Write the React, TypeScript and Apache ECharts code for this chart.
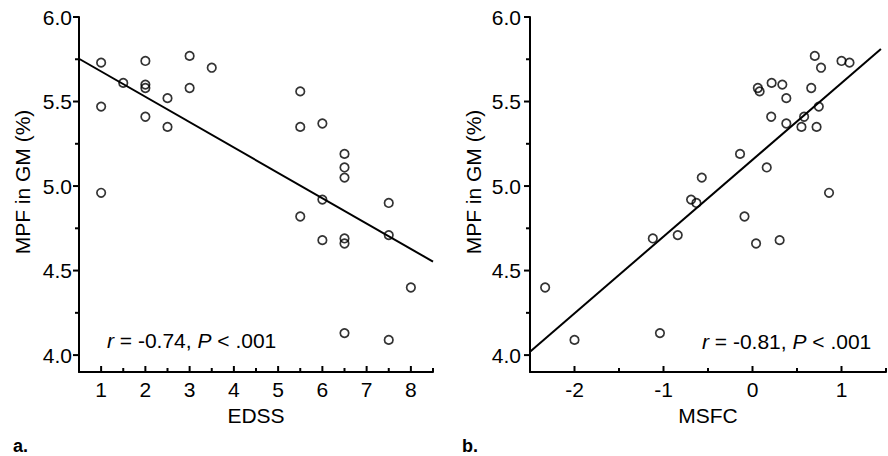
import React, { useEffect, useRef } from "react";
import * as echarts from "echarts";

// Panel a: EDSS vs MPF in GM
const edss = [1, 1, 1, 1.5, 2, 2, 2, 2, 2.5, 2.5, 3, 3, 3.5, 5.5, 5.5, 5.5, 6, 6, 6, 6.5, 6.5, 6.5, 6.5, 6.5, 6.5, 7.5, 7.5, 7.5, 8];
const mpfA = [5.73, 5.47, 4.96, 5.61, 5.74, 5.6, 5.58, 5.41, 5.52, 5.35, 5.77, 5.58, 5.7, 5.56, 5.35, 4.82, 5.37, 4.92, 4.68, 5.19, 5.11, 5.05, 4.69, 4.66, 4.13, 4.9, 4.71, 4.09, 4.4];

// Panel b: MSFC vs MPF in GM
const msfc = [-2.33, -2.0, -1.04, -1.12, -0.84, -0.69, -0.63, -0.57, -0.14, -0.09, 0.04, 0.06, 0.08, 0.16, 0.21, 0.215, 0.305, 0.335, 0.38, 0.38, 0.55, 0.58, 0.66, 0.7, 0.72, 0.745, 0.77, 0.86, 1.0, 1.09];
const mpfB = [4.4, 4.09, 4.13, 4.69, 4.71, 4.92, 4.9, 5.05, 5.19, 4.82, 4.66, 5.58, 5.56, 5.11, 5.41, 5.61, 4.68, 5.6, 5.52, 5.37, 5.35, 5.41, 5.58, 5.77, 5.35, 5.47, 5.7, 4.96, 5.74, 5.73];

// Regression fits
const fitA = { intercept: 5.828, slope: -0.15, xFrom: 0.5, xTo: 8.5 };
const fitB = { intercept: 5.155, slope: 0.454, xFrom: -2.5, xTo: 1.443 };

// Axis ranges and ticks
const yRange = [3.9, 6.0];
const xRangeA = [0.5, 8.5];
const xRangeB = [-2.5, 1.5];
const yMajor = [4.0, 4.5, 5.0, 5.5, 6.0];
const yMinor = [4.25, 4.75, 5.25, 5.75];
const xMajorA = [1, 2, 3, 4, 5, 6, 7, 8];
const xMinorA = [1.5, 2.5, 3.5, 4.5, 5.5, 6.5, 7.5, 8.5];
const xMajorB = [-2, -1, 0, 1];
const xMinorB = [-1.5, -0.5, 0.5, 1.5];

const statsA = { r: "-0.74", p: ".001" };
const statsB = { r: "-0.81", p: ".001" };

const FONT = "'Liberation Sans', Arial, Helvetica, sans-serif";
const FS = 21;
const MAJOR_LEN = 5;
const MINOR_LEN = 3;
const TICK_COLOR = "#000";

export default function App() {
  const ref = useRef<HTMLDivElement>(null);
  useEffect(() => {
    if (!ref.current) return;
    const chart = echarts.init(ref.current, undefined, { renderer: "svg" });

    const makeX = (gridIndex: number, range: number[], major: number[], name: string, nameGap: number) => ({
      type: "value",
      gridIndex,
      position: "bottom",
      min: range[0],
      max: range[1],
      name,
      nameLocation: "middle",
      nameGap,
      nameTextStyle: { fontFamily: FONT, fontSize: FS, color: "#000" },
      axisLine: { show: true, onZero: false, lineStyle: { color: "#000", width: 2 } },
      axisTick: { show: false },
      axisLabel: {
        show: true,
        customValues: major,
        margin: 7,
        fontFamily: FONT,
        fontSize: FS,
        color: "#000",
        formatter: (v: number) => String(v),
      },
      splitLine: { show: false },
    });

    const makeY = (gridIndex: number, margin: number) => ({
      type: "value",
      gridIndex,
      position: "left",
      min: yRange[0],
      max: yRange[1],
      axisLine: { show: true, onZero: false, lineStyle: { color: "#000", width: 2 } },
      axisTick: { show: false },
      axisLabel: {
        show: true,
        customValues: yMajor,
        margin,
        fontFamily: FONT,
        fontSize: FS,
        color: "#000",
        formatter: (v: number) => v.toFixed(1),
      },
      splitLine: { show: false },
    });

    // Tick marks drawn through the axes' own scales (custom series)
    const xTickSeries = (axisIndex: number, major: number[], minor: number[]) => ({
      type: "custom",
      coordinateSystem: "cartesian2d",
      xAxisIndex: axisIndex,
      yAxisIndex: axisIndex,
      clip: false,
      silent: true,
      z: 1,
      data: [...major.map((v) => [v, yRange[0], MAJOR_LEN]), ...minor.map((v) => [v, yRange[0], MINOR_LEN])],
      renderItem: (_p: any, api: any) => {
        const pt = api.coord([api.value(0), api.value(1)]);
        const len = api.value(2);
        return {
          type: "line",
          shape: { x1: pt[0], y1: pt[1], x2: pt[0], y2: pt[1] - len - 1 },
          style: { stroke: TICK_COLOR, lineWidth: 2 },
        };
      },
    });

    const yTickSeries = (axisIndex: number, xMin: number) => ({
      type: "custom",
      coordinateSystem: "cartesian2d",
      xAxisIndex: axisIndex,
      yAxisIndex: axisIndex,
      clip: false,
      silent: true,
      z: 1,
      data: [...yMajor.map((v) => [xMin, v, MAJOR_LEN]), ...yMinor.map((v) => [xMin, v, MINOR_LEN])],
      renderItem: (_p: any, api: any) => {
        const pt = api.coord([api.value(0), api.value(1)]);
        const len = api.value(2);
        return {
          type: "line",
          shape: { x1: pt[0], y1: pt[1], x2: pt[0] - len - 1, y2: pt[1] },
          style: { stroke: TICK_COLOR, lineWidth: 2 },
        };
      },
    });

    const scatterStyle = {
      symbol: "circle",
      symbolSize: 8.5,
      itemStyle: { color: "rgba(0,0,0,0)", borderColor: "#000", borderWidth: 1.7 },
    };

    const line = (fit: typeof fitA) => [
      [fit.xFrom, fit.intercept + fit.slope * fit.xFrom],
      [fit.xTo, fit.intercept + fit.slope * fit.xTo],
    ];

    const statText = (x: number, y: number, s: typeof statsA) => ({
      type: "text",
      x,
      y,
      style: {
        text: `{i|r} = ${s.r}, {i|P} < ${s.p}`,
        fontFamily: FONT,
        fontSize: FS,
        fill: "#000",
        textVerticalAlign: "middle",
        rich: { i: { fontStyle: "italic", fontFamily: FONT, fontSize: FS, fill: "#000" } },
      },
    });

    chart.setOption({
      animation: false,
      backgroundColor: "#fff",
      textStyle: { fontFamily: FONT },
      grid: [
        { left: 79, top: 17, width: 354, height: 355, containLabel: false },
        { left: 530, top: 17, width: 356, height: 355, containLabel: false },
      ],
      xAxis: [makeX(0, xRangeA, xMajorA, "EDSS", 28), makeX(1, xRangeB, xMajorB, "MSFC", 28)],
      yAxis: [makeY(0, 7), makeY(1, 9)],
      series: [
        xTickSeries(0, xMajorA, xMinorA),
        yTickSeries(0, xRangeA[0]),
        xTickSeries(1, xMajorB, xMinorB),
        yTickSeries(1, xRangeB[0]),
        { type: "scatter", xAxisIndex: 0, yAxisIndex: 0, data: edss.map((x, i) => [x, mpfA[i]]), ...scatterStyle, z: 3 },
        {
          type: "line",
          xAxisIndex: 0,
          yAxisIndex: 0,
          data: line(fitA),
          symbol: "none",
          lineStyle: { color: "#000", width: 2 },
          z: 2,
        },
        { type: "scatter", xAxisIndex: 1, yAxisIndex: 1, data: msfc.map((x, i) => [x, mpfB[i]]), ...scatterStyle, z: 3 },
        {
          type: "line",
          xAxisIndex: 1,
          yAxisIndex: 1,
          data: line(fitB),
          symbol: "none",
          lineStyle: { color: "#000", width: 2 },
          z: 2,
        },
      ],
      graphic: [
        {
          type: "text",
          x: 22,
          y: 182,
          rotation: Math.PI / 2,
          style: { text: "MPF in GM (%)", fontFamily: FONT, fontSize: FS, fill: "#000", textAlign: "center", textVerticalAlign: "middle" },
        },
        {
          type: "text",
          x: 473,
          y: 182,
          rotation: Math.PI / 2,
          style: { text: "MPF in GM (%)", fontFamily: FONT, fontSize: FS, fill: "#000", textAlign: "center", textVerticalAlign: "middle" },
        },
        statText(107, 340, statsA),
        statText(702, 341, statsB),
        {
          type: "text",
          x: 13,
          y: 446,
          style: { text: "a.", fontFamily: FONT, fontSize: 18, fontWeight: "bold", fill: "#000", textVerticalAlign: "middle" },
        },
        {
          type: "text",
          x: 462,
          y: 446,
          style: { text: "b.", fontFamily: FONT, fontSize: 18, fontWeight: "bold", fill: "#000", textVerticalAlign: "middle" },
        },
      ],
    });
    return () => chart.dispose();
  }, []);
  return <div ref={ref} style={{ position: "fixed", left: 0, top: 0, width: 888, height: 456 }} />;
}
